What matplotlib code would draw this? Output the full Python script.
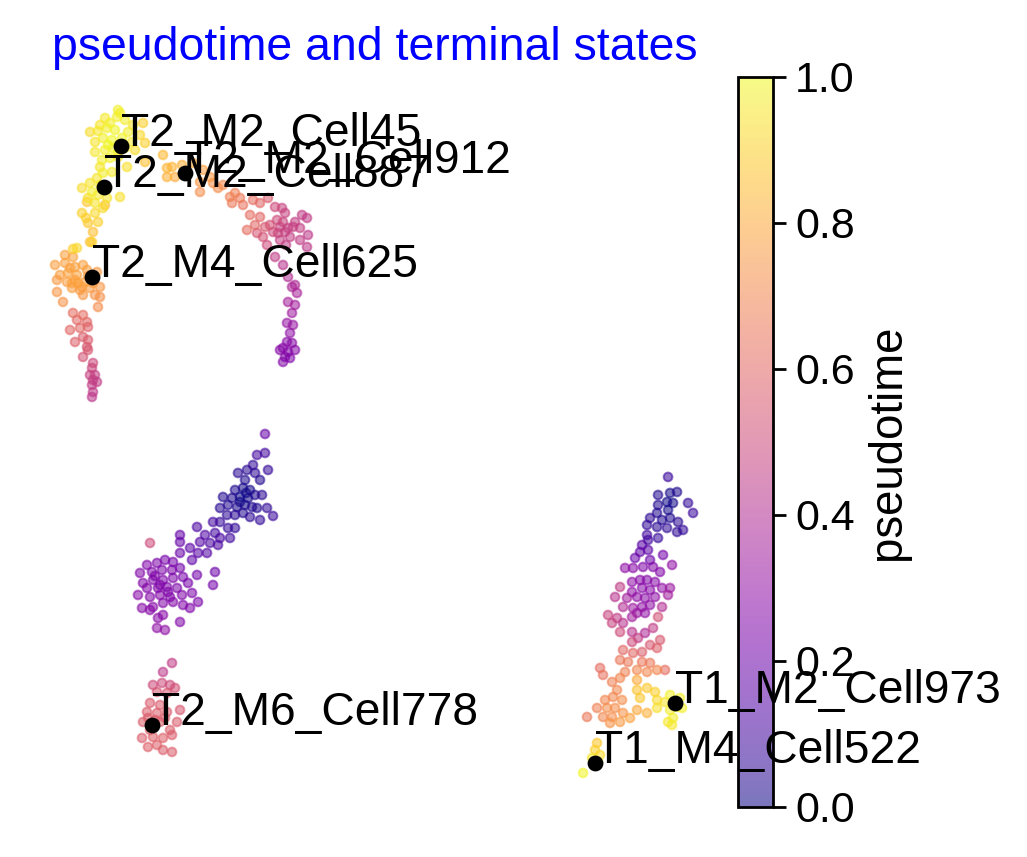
import numpy as np
import matplotlib
matplotlib.use("Agg")
import matplotlib.pyplot as plt

plt.rcParams["font.family"] = ["Liberation Sans", "DejaVu Sans"]

# embedding coordinates (umap1, umap2) and pseudotime per cell
t2_top_yellow = [
    (118, 110, .98), (117, 117, .98), (105, 118, .96), (110, 123, .98), (125, 120, .97),
    (133, 125, .95), (143, 123, .90), (90, 132, .93), (98, 131, .96), (107, 128, .98),
    (115, 130, .99), (128, 132, .97), (140, 135, .92), (95, 142, .95), (103, 138, .98),
    (112, 140, 1.0), (132, 142, .96), (145, 143, .90), (95, 152, .96), (105, 150, .98),
    (113, 148, .99), (125, 148, .97), (135, 150, .93), (102, 160, .97), (110, 158, .98),
    (118, 157, .96), (127, 167, .94), (100, 167, .95), (112, 172, .96), (103, 173, .97),
    (163, 155, .84), (145, 162, .86), (90, 183, .95), (82, 188, .93), (92, 192, .97),
    (98, 195, .96), (88, 198, .94), (107, 198, .95), (120, 197, .94), (95, 203, .95),
    (103, 208, .93), (87, 202, .88), (82, 213, .90), (95, 213, .92), (105, 205, .86),
    (88, 223, .88), (98, 222, .90), (93, 232, .86), (90, 242, .86), (77, 248, .92),
    (120, 113, .97), (100, 125, .95), (122, 138, .99), (108, 145, .99), (118, 152, .98),
    (97, 178, .95), (86, 218, .90), (100, 185, .96),
]

t2_top_arc = [
    (167, 168, .83), (172, 167, .83), (167, 177, .82), (175, 177, .80), (182, 165, .82),
    (193, 163, .80), (203, 170, .77), (210, 177, .76), (200, 182, .75), (213, 183, .73),
    (218, 188, .72), (223, 185, .71), (200, 192, .72), (230, 197, .68), (235, 193, .68),
    (240, 198, .66), (232, 203, .66), (243, 205, .64), (253, 200, .62), (260, 203, .60),
    (268, 198, .56), (250, 215, .62), (260, 217, .60), (255, 225, .60), (247, 230, .62),
    (265, 227, .55), (275, 207, .50), (282, 208, .48), (285, 213, .48), (277, 220, .50),
    (283, 222, .48), (302, 215, .45), (307, 218, .45), (293, 227, .47), (300, 228, .46),
    (273, 232, .50), (278, 233, .48), (285, 232, .47), (280, 240, .47), (290, 237, .46),
    (300, 240, .45), (308, 235, .44), (307, 247, .44), (263, 237, .52), (257, 233, .54),
    (267, 245, .50), (275, 257, .45), (283, 265, .42), (288, 277, .40), (295, 285, .38),
    (292, 287, .38), (297, 293, .37), (288, 302, .36), (295, 305, .35), (292, 313, .34),
    (287, 323, .32), (293, 325, .32), (290, 333, .30), (287, 342, .28), (292, 343, .28),
    (283, 348, .27), (280, 350, .27), (288, 352, .26), (295, 350, .27), (285, 357, .26),
    (290, 358, .25), (283, 362, .26), (288, 228, .46), (295, 222, .46), (280, 227, .48),
    (270, 225, .52), (286, 245, .45),
]

t2_left_branch = [
    (73, 249, .90), (92, 242, .90), (65, 255, .78), (73, 257, .78), (55, 265, .77),
    (65, 263, .78), (83, 265, .78), (75, 267, .78), (87, 270, .77), (97, 272, .76),
    (60, 275, .77), (68, 273, .78), (77, 275, .78), (57, 280, .76), (67, 282, .77),
    (72, 283, .78), (78, 283, .78), (85, 282, .77), (93, 283, .77), (72, 288, .77),
    (80, 290, .76), (90, 288, .76), (100, 287, .75), (57, 292, .75), (83, 295, .75),
    (95, 295, .74), (100, 297, .73), (63, 302, .74), (98, 307, .72), (73, 313, .62),
    (83, 315, .62), (77, 320, .60), (87, 322, .60), (70, 330, .60), (80, 328, .60),
    (88, 327, .58), (75, 342, .58), (83, 337, .57), (88, 340, .56), (87, 347, .55),
    (88, 350, .55), (83, 357, .53), (93, 363, .50), (92, 368, .48), (90, 375, .47),
    (95, 375, .46), (93, 380, .46), (97, 382, .45), (92, 385, .45), (93, 392, .44),
    (92, 397, .43), (75, 280, .78), (82, 287, .77), (70, 268, .78), (88, 276, .77),
]

t2_root = [
    (265, 434, .18), (257, 455, .10), (265, 453, .10), (253, 465, .06), (247, 470, .04),
    (238, 473, .04), (255, 473, .05), (268, 470, .07), (245, 480, .02), (260, 480, .03),
    (235, 490, .02), (243, 488, .01), (250, 490, .01), (223, 497, .03), (232, 498, .02),
    (240, 497, .00), (248, 498, .01), (255, 495, .02), (262, 495, .04), (220, 508, .04),
    (228, 505, .03), (237, 507, .02), (245, 505, .01), (252, 507, .02), (257, 508, .03),
    (267, 508, .06), (227, 515, .05), (235, 515, .04), (243, 513, .03), (250, 517, .05),
    (260, 520, .06), (273, 516, .08), (220, 522, .07), (235, 528, .06), (228, 528, .07),
    (197, 527, .12), (213, 522, .10), (205, 535, .13), (215, 533, .10), (220, 538, .11),
    (230, 538, .09), (210, 543, .12), (200, 542, .14), (218, 545, .12), (180, 535, .18),
    (180, 542, .18), (190, 548, .16), (198, 553, .15), (207, 553, .14), (192, 560, .17),
    (180, 553, .19), (215, 572, .20), (213, 585, .22), (150, 543, .50), (240, 502, .00),
    (246, 493, .00),
    (147, 565, .25), (157, 563, .24), (165, 560, .23), (173, 562, .23), (140, 573, .26),
    (152, 572, .25), (162, 570, .24), (172, 570, .24), (180, 568, .22), (143, 583, .26),
    (153, 580, .25), (163, 580, .25), (173, 578, .24), (183, 577, .23), (197, 575, .22),
    (147, 588, .26), (158, 588, .25), (167, 587, .25), (177, 588, .24), (188, 583, .23),
    (138, 595, .27), (150, 597, .26), (160, 595, .26), (170, 597, .25), (182, 595, .25),
    (192, 593, .24), (198, 602, .24), (142, 608, .27), (153, 607, .27), (163, 603, .26),
    (173, 602, .26), (183, 605, .25), (190, 608, .25), (150, 610, .27), (163, 615, .27),
    (158, 618, .28), (180, 622, .26), (157, 628, .30), (165, 630, .29), (160, 585, .25),
    (168, 592, .25), (155, 576, .25),
]

t2_m6 = [
    (172, 663, .45), (163, 672, .44), (153, 685, .50), (162, 683, .50), (170, 685, .50),
    (175, 688, .52), (157, 692, .54), (167, 693, .55), (150, 703, .56), (160, 705, .56),
    (180, 710, .55), (147, 712, .57), (157, 713, .57), (167, 712, .56), (177, 722, .56),
    (143, 722, .57), (160, 722, .57), (170, 730, .57), (150, 730, .58), (142, 738, .57),
    (153, 737, .58), (163, 738, .58), (172, 735, .57), (157, 745, .58), (163, 750, .57),
    (172, 752, .57), (148, 747, .58), (155, 720, .57), (165, 718, .57), (148, 718, .57),
]

t1_lineage = [
    (668, 477, .08), (658, 495, .03), (670, 493, .01), (677, 492, .02), (667, 502, .00),
    (673, 503, .01), (658, 505, .03), (688, 503, .06), (668, 510, .01), (657, 513, .03),
    (693, 513, .08), (650, 518, .05), (662, 520, .03), (670, 518, .02), (678, 522, .04),
    (647, 525, .06), (657, 527, .04), (667, 528, .05), (683, 530, .06), (677, 532, .05),
    (658, 538, .07), (647, 535, .10), (648, 540, .10),
    (642, 545, .15), (640, 552, .17), (648, 550, .16), (635, 558, .20), (650, 560, .20),
    (663, 555, .22), (625, 568, .30), (633, 568, .28), (643, 567, .25), (653, 567, .26),
    (672, 565, .30), (660, 572, .26), (620, 587, .45), (632, 582, .30), (640, 580, .27),
    (647, 580, .26), (655, 582, .27), (632, 592, .30), (642, 588, .27), (650, 590, .27),
    (662, 588, .30), (670, 588, .33), (615, 597, .42), (627, 598, .35), (637, 597, .30),
    (645, 598, .28), (655, 597, .30), (668, 595, .35), (623, 607, .40), (633, 608, .33),
    (642, 607, .30), (650, 605, .30), (662, 607, .40), (637, 613, .32), (645, 613, .30),
    (632, 617, .35),
    (608, 615, .48), (617, 618, .45), (612, 623, .48), (623, 623, .42), (658, 617, .52),
    (620, 632, .50), (632, 632, .42), (645, 633, .38), (653, 628, .45), (638, 638, .45),
    (660, 640, .55), (632, 642, .50), (650, 645, .55), (623, 650, .60), (642, 652, .57),
    (657, 648, .58), (633, 653, .60),
    (620, 660, .65), (628, 662, .66), (642, 662, .65), (650, 663, .66), (600, 668, .62),
    (625, 672, .68), (637, 670, .70), (647, 672, .70), (657, 670, .70), (665, 670, .62),
    (603, 675, .64), (620, 678, .70), (612, 682, .68), (637, 680, .80), (617, 690, .70),
    (605, 700, .70), (613, 697, .70), (622, 700, .72), (607, 708, .72), (615, 708, .72),
    (597, 708, .68), (623, 713, .74), (587, 717, .66), (603, 717, .70), (612, 717, .72),
    (620, 722, .76), (630, 718, .78), (637, 710, .80), (647, 713, .82), (610, 723, .74),
    (637, 690, .87), (647, 688, .88), (655, 692, .90), (640, 698, .88), (657, 700, .92),
    (665, 702, .95), (670, 695, .98), (680, 698, .98), (677, 707, .99), (670, 710, .97),
    (682, 708, .98), (673, 718, .97), (668, 722, .96), (672, 725, .96), (657, 708, .94),
    (597, 743, .88), (595, 750, .90), (600, 755, .92), (592, 758, .95), (598, 762, .96),
    (583, 773, .99),
]

terminal_names = ["T2_M2_Cell45", "T2_M2_Cell887", "T2_M2_Cell912", "T2_M4_Cell625",
                  "T2_M6_Cell778", "T1_M2_Cell973", "T1_M4_Cell522"]
terminal_x = [121, 104, 185, 92, 152, 675, 595]
terminal_y = [146, 187, 173, 277, 725, 703, 763]

cells = np.array(t2_top_yellow + t2_top_arc + t2_left_branch + t2_root + t2_m6 + t1_lineage)
cells = cells[np.argsort(cells[:, 2])]  # high pseudotime drawn on top

fig = plt.figure(figsize=(5.135, 4.285), dpi=200)
ax = fig.add_axes([0.0438, 0.0584, 0.6427, 0.8518])
cax = fig.add_axes([0.7186, 0.0584, 0.0341, 0.8518])
ax.set_zorder(3)

sc = ax.scatter(cells[:, 0], cells[:, 1], c=cells[:, 2], cmap="plasma", vmin=0, vmax=1,
                s=10, alpha=0.55, linewidths=0.7, edgecolors="face")
ax.scatter(terminal_x, terminal_y, s=22, c="black", zorder=4)
for name, x, y in zip(terminal_names, terminal_x, terminal_y):
    ax.text(x, y, name, fontsize=16.6, color="black", zorder=5, clip_on=False)

ax.set_xlim(45, 705)
ax.set_ylim(807, 77)
ax.axis("off")
ax.set_title("pseudotime and terminal states", color="blue", fontsize=16.7)

cb = fig.colorbar(sc, cax=cax)
cb.set_ticks([0.0, 0.2, 0.4, 0.6, 0.8, 1.0])
cb.ax.set_yticklabels(["0.0", "0.2", "0.4", "0.6", "0.8", "1.0"])
cb.ax.tick_params(labelsize=15.5, length=4.5, width=1.0)
cb.outline.set_linewidth(1.0)
cb.set_label("pseudotime", fontsize=16.4)

fig.savefig("out.png", dpi=200)
